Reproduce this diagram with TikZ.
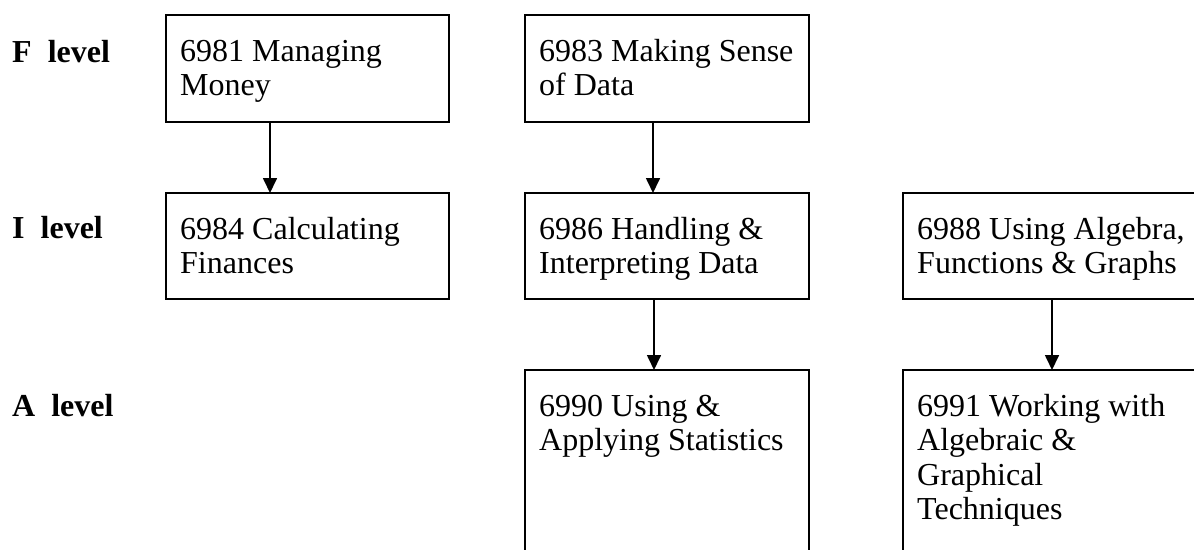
\documentclass[tikz,border=0pt]{standalone}
\usepackage{fontspec}
\setmainfont{Liberation Serif}
\usetikzlibrary{positioning, arrows.meta}

\begin{document}
\begin{tikzpicture}[
  x=1pt, y=-1pt,
  every node/.style={font=\fontsize{32}{34.5}\selectfont},
  course/.style={draw, line width=2.7pt, anchor=north west, inner sep=0pt, outer sep=0pt},
  lvl/.style={font=\fontsize{32}{34.5}\selectfont\bfseries, anchor=base west, inner sep=0pt},
  link/.style={-{Triangle[length=15pt, width=14pt]}, line width=1.7pt}
]
\useasboundingbox (0,0) rectangle (1194,549);
\clip (0,0) rectangle (1194,549);
\node[lvl] (flev) at (12,62) {F\ \ level};
\node[lvl] (ilev) at (12,238) {I\ \ level};
\node[lvl] (alev) at (12,416) {A\ \ level};
\def\course#1#2#3#4#5#6{%
  \node[course, minimum width=#4, minimum height=#5] (#1) at (#2,#3) {};
  \node[anchor=base west, inner sep=0pt] (#1-txt) at ([xshift=14pt, yshift=-46pt]#1.north west) {\parbox[t]{400pt}{#6}};
}
\course{mm}{166}{15}{283}{107}{6981 Managing\\Money}
\course{msd}{525}{15}{284}{107}{6983 Making Sense\\of Data}
\course{cf}{166}{193}{283}{106}{6984 Calculating\\Finances}
\course{hid}{525}{193}{284}{106}{6986 Handling \&\\Interpreting Data}
\course{uafg}{903}{193}{298}{106}{6988 Using Algebra,\\Functions \& Graphs}
\course{uas}{525}{370}{284}{220}{6990 Using \&\\Applying Statistics}
\course{wagt}{903}{370}{298}{220}{6991 Working with\\Algebraic \&\\Graphical\\Techniques}
\draw[link] ([xshift=-37.5pt]mm.south) -- ([xshift=-37.5pt]cf.north);
\draw[link] ([xshift=-14pt]msd.south) -- ([xshift=-14pt]hid.north);
\draw[link] ([xshift=-13pt]hid.south) -- ([xshift=-13pt]uas.north);
\draw[link] (uafg.south) -- (wagt.north);
\end{tikzpicture}
\end{document}
